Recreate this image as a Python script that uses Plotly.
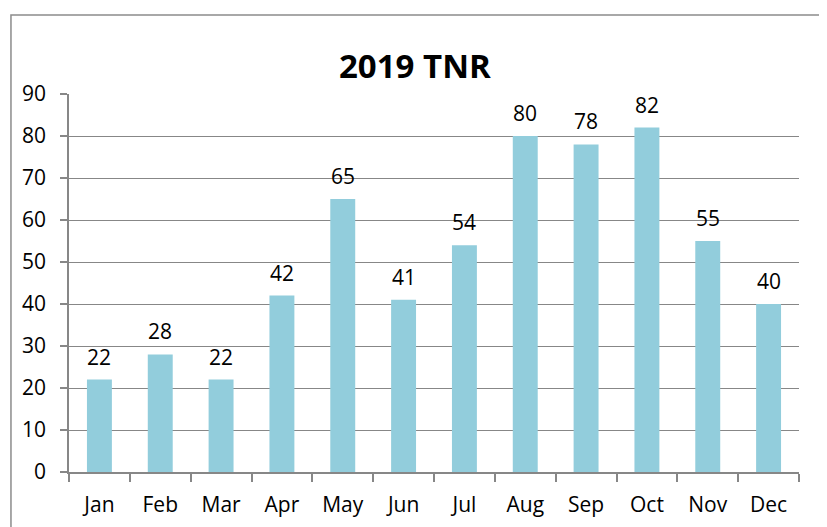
import plotly.graph_objects as go

# Monthly TNR counts for 2019
months = ['Jan', 'Feb', 'Mar', 'Apr', 'May', 'Jun',
          'Jul', 'Aug', 'Sep', 'Oct', 'Nov', 'Dec']
tnr_counts = [22, 28, 22, 42, 65, 41, 54, 80, 78, 82, 55, 40]
y_ticks = [0, 10, 20, 30, 40, 50, 60, 70, 80, 90]

bar_color = '#92CDDC'
grid_color = '#878787'
font_family = 'Open Sans, Lato, sans-serif'

fig = go.Figure()

fig.add_trace(go.Bar(
    x=months,
    y=tnr_counts,
    marker_color=bar_color,
    marker_line_width=0,
    cliponaxis=False
))

# value labels above each bar
for m, v in zip(months, tnr_counts):
    fig.add_annotation(
        x=m, y=v, text=str(v),
        showarrow=False, yanchor='bottom', yshift=7,
        font=dict(size=21, color='#000000', family=font_family)
    )

# outer chart border
fig.add_shape(
    type='rect', xref='paper', yref='paper',
    x0=-0.0795, x1=1.030, y0=-0.3, y1=1.209,
    line=dict(color='#8c8c8c', width=1.5), fillcolor='rgba(0,0,0,0)',
    layer='below'
)

# page body adds an 8px margin, so the margins are shifted to compensate
fig.update_layout(
    width=827,
    height=527,
    title=dict(
        text='<b>2019 TNR</b>',
        x=0.492, xanchor='center',
        y=0.89, yanchor='middle',
        font=dict(size=33, color='#000000', family=font_family)
    ),
    paper_bgcolor='white',
    plot_bgcolor='white',
    bargap=0.59,
    showlegend=False,
    margin=dict(l=61, r=36, t=86, b=63),
    font=dict(family=font_family, size=21, color='#000000'),
    xaxis=dict(
        type='category',
        showline=True, linecolor=grid_color, linewidth=1.5,
        ticks='outside', tickson='boundaries', ticklen=8,
        tickcolor=grid_color, tickwidth=1.5,
        ticklabelstandoff=13,
        tickfont=dict(size=21),
        showgrid=False
    ),
    yaxis=dict(
        range=[0, 90],
        tickvals=y_ticks,
        showline=True, linecolor=grid_color, linewidth=1.5,
        ticks='outside', ticklen=7, tickcolor=grid_color, tickwidth=1.5,
        ticklabelstandoff=10,
        tickfont=dict(size=21),
        showgrid=True, gridcolor=grid_color, gridwidth=1.2,
        zeroline=False
    )
)

fig.write_html('out.html')
